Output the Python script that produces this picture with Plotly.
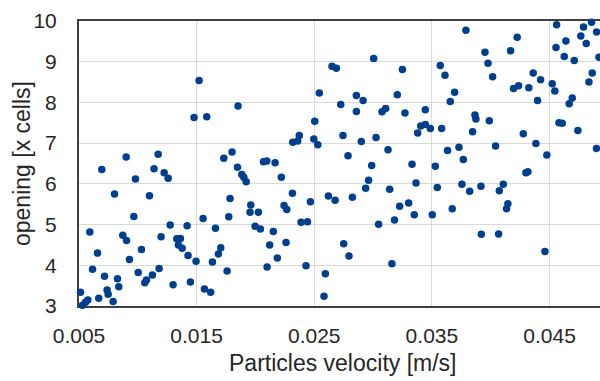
import plotly.graph_objects as go

# Particles velocity [m/s]
velocity = [
    0.00901, 0.01173, 0.00694, 0.01138, 0.01224, 0.01258, 0.00980, 0.00802, 0.01099, 0.00966,
    0.01275, 0.00592, 0.00872, 0.00904, 0.01198, 0.01331, 0.01362, 0.01345, 0.01377, 0.00657,
    0.01031, 0.00929, 0.00615, 0.01181, 0.01003, 0.00717, 0.00827, 0.01124, 0.01074, 0.01059,
    0.00838, 0.01300, 0.00739, 0.00748, 0.00513, 0.00668, 0.00790, 0.00575, 0.00555, 0.00530,
    0.01521, 0.01852, 0.01478, 0.01586, 0.01801, 0.01731, 0.02068, 0.02096, 0.02167, 0.01847,
    0.01884, 0.01901, 0.01921, 0.02220, 0.01784, 0.01960, 0.01954, 0.02025, 0.01773, 0.01555,
    0.02243, 0.02266, 0.01419, 0.01660, 0.01997, 0.02042, 0.02152, 0.01427, 0.01705, 0.01685,
    0.02121, 0.02260, 0.01495, 0.01634, 0.02186, 0.01759, 0.02099, 0.01447, 0.01566, 0.01619,
    0.03005, 0.02651, 0.02688, 0.02543, 0.02858, 0.02915, 0.02725, 0.02858, 0.03076, 0.03107,
    0.02504, 0.02373, 0.02359, 0.02317, 0.02496, 0.02530, 0.02744, 0.02900, 0.03025, 0.02787,
    0.03127, 0.02988, 0.02962, 0.02937, 0.03141, 0.02314, 0.02620, 0.02677, 0.02824, 0.02467,
    0.02388, 0.02442, 0.03047, 0.03182, 0.02750, 0.02795, 0.02430, 0.03160, 0.02594, 0.02583,
    0.03789, 0.03951, 0.03977, 0.04016, 0.03571, 0.03611, 0.03249, 0.03206, 0.03693, 0.03656,
    0.03271, 0.03444, 0.03405, 0.03444, 0.03379, 0.03487, 0.03583, 0.03866, 0.03874, 0.03988,
    0.03846, 0.04041, 0.03633, 0.03730, 0.03767, 0.03331, 0.03529, 0.03365, 0.03546, 0.03755,
    0.03821, 0.03917, 0.04073, 0.03226, 0.03302, 0.03350, 0.03503, 0.03673, 0.03920, 0.04067,
    0.04560, 0.04789, 0.04857, 0.04900, 0.04766, 0.04812, 0.04639, 0.04555, 0.04225, 0.04169,
    0.04625, 0.04710, 0.04920, 0.04361, 0.04424, 0.04194, 0.04237, 0.04324, 0.04523, 0.04545,
    0.04863, 0.04835, 0.04398, 0.04693, 0.04667, 0.04580, 0.04608, 0.04741, 0.04277, 0.04384,
    0.04477, 0.04899, 0.04299, 0.04316, 0.04107, 0.04146, 0.04135, 0.04461,
]

# opening [x cells]
opening = [
    6.66, 6.73, 6.35, 6.37, 6.27, 6.14, 6.12, 5.75, 5.71, 5.20,
    4.99, 4.82, 4.74, 4.61, 4.70, 4.65, 4.66, 4.50, 4.42, 4.30,
    4.39, 4.14, 3.90, 3.92, 3.82, 3.73, 3.67, 3.76, 3.64, 3.57,
    3.47, 3.52, 3.39, 3.29, 3.34, 3.19, 3.11, 3.15, 3.09, 3.02,
    8.54, 7.91, 7.63, 7.65, 6.78, 6.63, 6.54, 6.56, 6.52, 6.41,
    6.23, 6.16, 6.05, 6.16, 5.64, 5.48, 5.30, 5.30, 5.19, 5.15,
    5.47, 5.37, 4.97, 4.91, 4.96, 4.89, 4.83, 4.24, 4.43, 4.28,
    4.50, 4.56, 4.10, 4.08, 4.18, 3.86, 3.96, 3.59, 3.42, 3.34,
    9.08, 8.89, 8.84, 8.23, 8.17, 8.05, 7.95, 7.78, 7.77, 7.85,
    7.54, 7.19, 7.05, 7.02, 7.10, 6.96, 7.19, 7.04, 7.14, 6.69,
    6.84, 6.45, 6.09, 5.89, 5.87, 5.77, 5.70, 5.60, 5.67, 5.56,
    5.06, 5.07, 5.01, 5.11, 4.53, 4.23, 3.99, 4.04, 3.79, 3.24,
    9.77, 9.23, 8.96, 8.63, 8.91, 8.67, 8.81, 8.19, 8.25, 8.02,
    7.74, 7.82, 7.42, 7.46, 7.25, 7.36, 7.36, 7.69, 7.59, 7.55,
    7.28, 6.93, 6.82, 6.90, 6.60, 6.48, 6.43, 6.02, 5.91, 5.99,
    5.82, 5.94, 5.83, 5.45, 5.53, 5.24, 5.24, 5.39, 4.76, 4.77,
    9.91, 9.85, 9.97, 9.73, 9.63, 9.45, 9.51, 9.35, 9.60, 9.27,
    9.13, 9.03, 9.11, 8.72, 8.56, 8.34, 8.41, 8.36, 8.46, 8.28,
    8.72, 8.50, 8.05, 8.11, 7.97, 7.50, 7.49, 7.31, 7.23, 6.99,
    6.71, 6.87, 6.27, 6.30, 5.99, 5.51, 5.39, 4.34,
]

x_ticks = [0.005, 0.015, 0.025, 0.035, 0.045]
x_tick_labels = ["0.005", "0.015", "0.025", "0.035", "0.045"]
y_ticks = [3, 4, 5, 6, 7, 8, 9, 10]
x_title = "Particles velocity [m/s]"
y_title = "opening [x cells]"

FONT = "Liberation Sans, Arial, sans-serif"
TXT = "#262626"

fig = go.Figure(
    go.Scatter(
        x=velocity, y=opening, mode="markers",
        marker=dict(size=7.5, color="#003F8F", line=dict(width=0)),
        cliponaxis=False, showlegend=False,
    )
)

fig.update_layout(
    width=600, height=381,
    margin=dict(l=79, r=0, t=21, b=75, pad=0),
    paper_bgcolor="white", plot_bgcolor="white",
    font=dict(family=FONT, color=TXT),
    xaxis=dict(
        range=[0.005, 0.04929],
        tickvals=x_ticks, ticktext=x_tick_labels,
        showgrid=True, gridcolor="#d9d9d9", gridwidth=1.3,
        showline=True, linecolor="#404040", linewidth=2, mirror=True,
        zeroline=False, ticks="", ticklabelstandoff=10,
        tickfont=dict(family=FONT, size=21, color=TXT),
        layer="below traces",
    ),
    yaxis=dict(
        range=[3, 10], tickvals=y_ticks,
        showgrid=True, gridcolor="#d9d9d9", gridwidth=1.3,
        showline=True, linecolor="#404040", linewidth=2, mirror=False,
        zeroline=False, ticks="", ticklabelstandoff=16,
        tickfont=dict(family=FONT, size=21, color=TXT),
        layer="below traces",
    ),
    annotations=[
        dict(text=x_title, xref="paper", yref="paper",
             x=(343 - 79) / 521, y=(306 - 363) / 285,
             xanchor="center", yanchor="middle", showarrow=False,
             font=dict(family=FONT, size=23, color=TXT)),
        dict(text=y_title, xref="paper", yref="paper",
             x=(22 - 79) / 521, y=(306 - 164) / 285, textangle=-90,
             xanchor="center", yanchor="middle", showarrow=False,
             font=dict(family=FONT, size=23, color=TXT)),
    ],
)

fig.write_html("out.html")
